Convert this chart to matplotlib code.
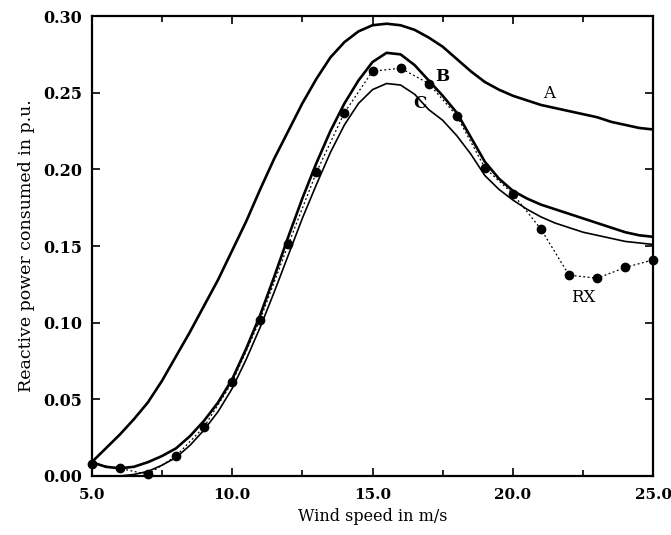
import matplotlib
matplotlib.use("Agg")
import matplotlib.pyplot as plt
import numpy as np

# wind speed grid for the smooth curves (m/s)
wind_curve = [5.0, 5.5, 6.0, 6.5, 7.0, 7.5, 8.0, 8.5, 9.0, 9.5, 10.0, 10.5, 11.0, 11.5,
              12.0, 12.5, 13.0, 13.5, 14.0, 14.5, 15.0, 15.5, 16.0, 16.5, 17.0, 17.5,
              18.0, 18.5, 19.0, 19.5, 20.0, 20.5, 21.0, 21.5, 22.0, 22.5, 23.0, 23.5,
              24.0, 24.5, 25.0]

curve_A = [0.009, 0.018, 0.027, 0.037, 0.048, 0.062, 0.078, 0.094, 0.111, 0.128, 0.147,
           0.166, 0.187, 0.207, 0.225, 0.243, 0.259, 0.273, 0.283, 0.290, 0.294, 0.295,
           0.294, 0.291, 0.286, 0.280, 0.272, 0.264, 0.257, 0.252, 0.248, 0.245, 0.242,
           0.240, 0.238, 0.236, 0.234, 0.231, 0.229, 0.227, 0.226]

curve_B = [0.009, 0.006, 0.005, 0.006, 0.009, 0.013, 0.018, 0.026, 0.036, 0.048, 0.063,
           0.083, 0.105, 0.130, 0.156, 0.181, 0.204, 0.225, 0.243, 0.258, 0.270, 0.276,
           0.275, 0.268, 0.258, 0.248, 0.237, 0.221, 0.205, 0.194, 0.186, 0.181, 0.177,
           0.174, 0.171, 0.168, 0.165, 0.162, 0.159, 0.157, 0.156]

curve_C = [0.000, 0.000, 0.000, 0.001, 0.003, 0.007, 0.012, 0.020, 0.030, 0.042, 0.057,
           0.076, 0.097, 0.120, 0.144, 0.168, 0.190, 0.211, 0.229, 0.243, 0.252, 0.256,
           0.255, 0.249, 0.239, 0.232, 0.222, 0.210, 0.196, 0.187, 0.180, 0.174, 0.169,
           0.165, 0.162, 0.159, 0.157, 0.155, 0.153, 0.152, 0.151]

# measured points (RX)
wind_rx = [5, 6, 7, 8, 9, 10, 11, 12, 13, 14, 15, 16, 17, 18, 19, 20, 21, 22, 23, 24, 25]
rx_vals = [0.008, 0.005, 0.001, 0.013, 0.032, 0.061, 0.102, 0.151, 0.198, 0.237, 0.264,
           0.266, 0.256, 0.235, 0.201, 0.184, 0.161, 0.131, 0.129, 0.136, 0.141]

x_ticks = [5.0, 10.0, 15.0, 20.0, 25.0]
x_ticklabels = ["5.0", "10.0", "15.0", "20.0", "25.0"]
y_ticks = [0.00, 0.05, 0.10, 0.15, 0.20, 0.25, 0.30]
y_ticklabels = ["0.00", "0.05", "0.10", "0.15", "0.20", "0.25", "0.30"]

serif = ["DejaVu Serif"]

fig = plt.figure(figsize=(6.71, 5.35), dpi=100)
ax = fig.add_axes([0.1367, 0.1103, 0.9736 - 0.1367, 0.970 - 0.1103])

ax.plot(wind_curve, curve_A, color="black", lw=1.9, solid_capstyle="round")
ax.plot(wind_curve, curve_B, color="black", lw=1.9, solid_capstyle="round")
ax.plot(wind_curve, curve_C, color="black", lw=1.2, solid_capstyle="round")
ax.plot(wind_rx, rx_vals, color="black", lw=0.9, ls=(0, (1.5, 2.0)),
        marker="o", ms=6, mfc="black", mec="black", clip_on=False, zorder=5)

ax.set_xlim(5, 25)
ax.set_ylim(0, 0.30)
ax.set_xticks(x_ticks)
ax.set_xticklabels(x_ticklabels, fontfamily=serif, fontsize=11, fontweight="bold")
ax.set_yticks(y_ticks)
ax.set_yticklabels(y_ticklabels, fontfamily=serif, fontsize=11.5, fontweight="bold")
ax.set_xticks([7.5, 12.5, 17.5, 22.5], minor=True)
ax.tick_params(which="both", direction="in", top=True, right=True, width=1.2)
ax.tick_params(which="major", length=6)
ax.tick_params(axis="x", which="major", pad=9)
ax.tick_params(axis="y", which="major", pad=7)
ax.tick_params(which="minor", length=4)
for s in ax.spines.values():
    s.set_linewidth(1.6)

ax.set_xlabel("Wind speed in m/s", fontfamily=serif, fontsize=11.5, labelpad=4)
ax.set_ylabel("Reactive power consumed in p.u.", fontfamily=serif, fontsize=12.5, labelpad=6)

ax.text(21.3, 0.2495, "A", fontfamily=serif, fontsize=12, ha="center", va="center")
ax.text(17.5, 0.2605, "B", fontfamily=serif, fontsize=12, fontweight="bold", ha="center", va="center")
ax.text(16.7, 0.2428, "C", fontfamily=serif, fontsize=12, fontweight="bold", ha="center", va="center")
ax.text(22.5, 0.1165, "RX", fontfamily=serif, fontsize=12, ha="center", va="center")

fig.savefig("out.png", dpi=100)
